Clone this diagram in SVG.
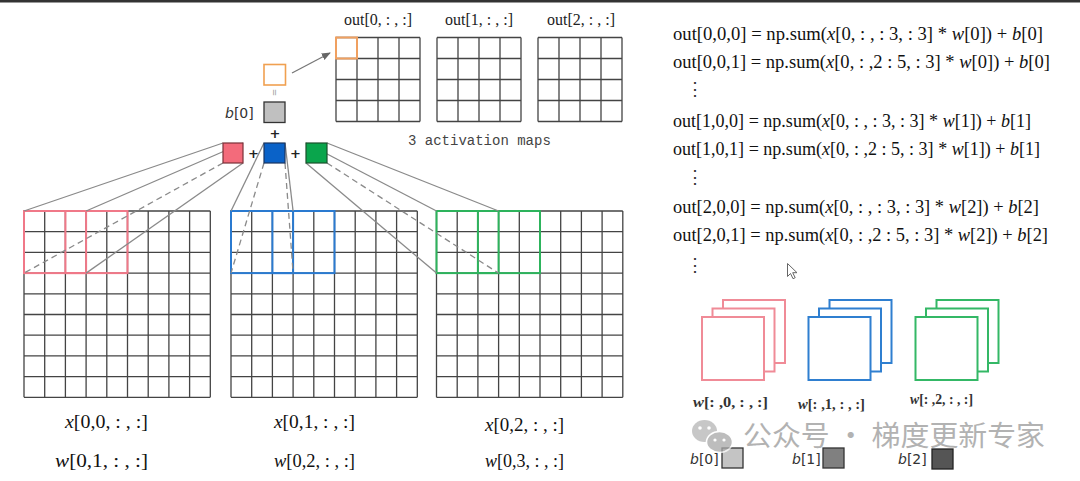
<svg xmlns="http://www.w3.org/2000/svg" xmlns:xlink="http://www.w3.org/1999/xlink" width="1080" height="481" viewBox="0 0 1080 481">
<style>
.grid{fill:none;stroke:#444;stroke-width:1.3}
.conn{stroke:#8a8a8a;stroke-width:1.3;fill:none}
.dash{stroke-dasharray:6 4}
.eq{font-family:"Liberation Serif","Times New Roman",serif;font-size:18px;fill:#111}
.lbl{font-family:"Liberation Serif","Times New Roman",serif;font-size:18px;fill:#111}
.olbl{font-family:"Liberation Serif","Times New Roman",serif;font-size:16px;fill:#222}
.wl{font-family:"Liberation Serif","Times New Roman",serif;font-size:15px;font-weight:bold;fill:#333}
.bl{font-family:"DejaVu Sans","Liberation Sans",sans-serif;font-size:14px;fill:#333}
.mono{font-family:"Liberation Mono","DejaVu Sans Mono",monospace;font-size:14px;fill:#444}
.plus{font-family:"DejaVu Sans",sans-serif;font-size:13px;font-weight:bold;fill:#222}
.dots{font-family:"DejaVu Serif",serif;font-size:18px;fill:#333}
.it{font-style:italic}
.pk{fill:none;stroke:#f07888;stroke-width:2}
.bu{fill:none;stroke:#2a7ad0;stroke-width:2}
.gr{fill:none;stroke:#2db35c;stroke-width:2}
.spk{fill:#fff;stroke:#f08b97;stroke-width:2}
.sbu{fill:#fff;stroke:#2f7fd0;stroke-width:2}
.sgr{fill:#fff;stroke:#34b866;stroke-width:2}
</style>
<defs>
<path id="grid9" class="grid" d="M0,0V186.3M20.7,0V186.3M41.4,0V186.3M62.1,0V186.3M82.8,0V186.3M103.5,0V186.3M124.2,0V186.3M144.9,0V186.3M165.6,0V186.3M186.3,0V186.3M0,0H186.3M0,20.7H186.3M0,41.4H186.3M0,62.1H186.3M0,82.8H186.3M0,103.5H186.3M0,124.2H186.3M0,144.9H186.3M0,165.6H186.3M0,186.3H186.3"/>
<path id="grid4" class="grid" d="M0,0V84M21,0V84M42,0V84M63,0V84M84,0V84M0,0H84M0,21H84M0,42H84M0,63H84M0,84H84"/>
<marker id="arr" viewBox="0 0 10 10" refX="9" refY="5" markerWidth="7" markerHeight="7" orient="auto">
<path d="M0,1L10,5L0,9z" fill="#666"/>
</marker>
</defs>
<rect width="1080" height="481" fill="#fff"/>
<rect width="1080" height="2.5" fill="#333"/>

<g id="output-maps">
<text class="olbl" x="378" y="25" text-anchor="middle">out[0, : , :]</text>
<text class="olbl" x="479" y="25" text-anchor="middle">out[1, : , :]</text>
<text class="olbl" x="581" y="25" text-anchor="middle">out[2, : , :]</text>
<use xlink:href="#grid4" x="336" y="37.5"/>
<use xlink:href="#grid4" x="437" y="37.5"/>
<use xlink:href="#grid4" x="538" y="37.5"/>
<rect x="336" y="37.5" width="21" height="21" fill="none" stroke="#f0a060" stroke-width="2"/>
<text class="mono" x="408" y="145">3 activation maps</text>
</g>

<g id="input-grids">
<use xlink:href="#grid9" x="24" y="211"/>
<use xlink:href="#grid9" x="231" y="211"/>
<use xlink:href="#grid9" x="436.5" y="211"/>
<rect class="pk" x="24" y="211" width="62.1" height="62.1"/>
<rect class="pk" x="65.4" y="211" width="62.1" height="62.1"/>
<rect class="bu" x="231" y="211" width="62.1" height="62.1"/>
<rect class="bu" x="272.4" y="211" width="62.1" height="62.1"/>
<rect class="gr" x="436.5" y="211" width="62.1" height="62.1"/>
<rect class="gr" x="477.9" y="211" width="62.1" height="62.1"/>
</g>

<g id="connectors">
<line class="conn" x1="223" y1="143" x2="24" y2="211"/>
<line class="conn" x1="243" y1="143" x2="86.1" y2="211"/>
<line class="conn" x1="243" y1="163" x2="86.1" y2="273.1"/>
<line class="conn dash" x1="223" y1="163" x2="24" y2="273.1"/>
<line class="conn" x1="264" y1="143" x2="231" y2="211"/>
<line class="conn" x1="285" y1="143" x2="293.1" y2="211"/>
<line class="conn dash" x1="285" y1="163" x2="293.1" y2="273.1"/>
<line class="conn dash" x1="264" y1="163" x2="231" y2="273.1"/>
<line class="conn" x1="306" y1="143" x2="436.5" y2="211"/>
<line class="conn" x1="327" y1="143" x2="498.6" y2="211"/>
<line class="conn dash" x1="327" y1="163" x2="498.6" y2="273.1"/>
<line class="conn" x1="306" y1="163" x2="436.5" y2="273.1"/>
<line x1="292" y1="73" x2="330" y2="53" stroke="#777" stroke-width="1.3" marker-end="url(#arr)"/>
</g>

<g id="filters">
<rect x="223" y="143" width="20" height="20" fill="#f36b7b" stroke="#7a3038" stroke-width="1.2"/>
<text class="plus" x="253.5" y="157.5" text-anchor="middle">+</text>
<rect x="264" y="143" width="21" height="20" fill="#0a62c8" stroke="#1a3560" stroke-width="1.2"/>
<text class="plus" x="295.5" y="157.5" text-anchor="middle">+</text>
<rect x="306" y="143" width="21" height="20" fill="#0aa54c" stroke="#19502c" stroke-width="1.2"/>
</g>

<g id="bias-sum">
<text class="plus" x="275" y="137.5" text-anchor="middle">+</text>
<rect x="264" y="102" width="21" height="20.5" fill="#c0c0c0" stroke="#333" stroke-width="1.3"/>
<text class="bl" x="225" y="118"><tspan class="it">b</tspan>[0]</text>
<text x="275" y="92.5" font-family="DejaVu Sans,sans-serif" font-size="9" fill="#999" text-anchor="middle" transform="rotate(90 275 92.5)" dy="3">=</text>
<rect x="264" y="64.5" width="21.5" height="20.5" fill="#fff" stroke="#f0a050" stroke-width="1.6"/>
</g>

<g id="input-labels">
<text class="lbl" x="65" y="428" textLength="83" lengthAdjust="spacingAndGlyphs"><tspan class="it">x</tspan>[0,0, : , :]</text>
<text class="lbl" x="55" y="467" textLength="93" lengthAdjust="spacingAndGlyphs"><tspan class="it">w</tspan>[0,1, : , :]</text>
<text class="lbl" x="274" y="428" textLength="81" lengthAdjust="spacingAndGlyphs"><tspan class="it">x</tspan>[0,1, : , :]</text>
<text class="lbl" x="274" y="467" textLength="81" lengthAdjust="spacingAndGlyphs"><tspan class="it">w</tspan>[0,2, : , :]</text>
<text class="lbl" x="485" y="431" textLength="79" lengthAdjust="spacingAndGlyphs"><tspan class="it">x</tspan>[0,2, : , :]</text>
<text class="lbl" x="485" y="467" textLength="79" lengthAdjust="spacingAndGlyphs"><tspan class="it">w</tspan>[0,3, : , :]</text>
</g>

<g id="equations">
<text class="eq" x="673" y="40" textLength="370" lengthAdjust="spacingAndGlyphs">out[0,0,0] = np.sum(<tspan class="it">x</tspan>[0, : , : 3, : 3] * <tspan class="it">w</tspan>[0]) + <tspan class="it">b</tspan>[0]</text>
<text class="eq" x="673" y="68" textLength="377" lengthAdjust="spacingAndGlyphs">out[0,0,1] = np.sum(<tspan class="it">x</tspan>[0, : ,2 : 5, : 3] * <tspan class="it">w</tspan>[0]) + <tspan class="it">b</tspan>[0]</text>
<text class="dots" x="695" y="95" text-anchor="middle">⋮</text>
<text class="eq" x="673" y="127" textLength="358" lengthAdjust="spacingAndGlyphs">out[1,0,0] = np.sum(<tspan class="it">x</tspan>[0, : , : 3, : 3] * <tspan class="it">w</tspan>[1]) + <tspan class="it">b</tspan>[1]</text>
<text class="eq" x="673" y="155" textLength="367" lengthAdjust="spacingAndGlyphs">out[1,0,1] = np.sum(<tspan class="it">x</tspan>[0, : ,2 : 5, : 3] * <tspan class="it">w</tspan>[1]) + <tspan class="it">b</tspan>[1]</text>
<text class="dots" x="695" y="183" text-anchor="middle">⋮</text>
<text class="eq" x="673" y="213" textLength="366" lengthAdjust="spacingAndGlyphs">out[2,0,0] = np.sum(<tspan class="it">x</tspan>[0, : , : 3, : 3] * <tspan class="it">w</tspan>[2]) + <tspan class="it">b</tspan>[2]</text>
<text class="eq" x="673" y="241" textLength="375" lengthAdjust="spacingAndGlyphs">out[2,0,1] = np.sum(<tspan class="it">x</tspan>[0, : ,2 : 5, : 3] * <tspan class="it">w</tspan>[2]) + <tspan class="it">b</tspan>[2]</text>
<text class="dots" x="695" y="271" text-anchor="middle">⋮</text>
</g>

<path d="M787.5,263.5v13l3,-3l2.5,5.2l2.2,-1l-2.5,-5h4.3z" fill="#fff" stroke="#666" stroke-width="1"/>

<g id="filter-stacks">
<rect class="spk" x="723" y="300" width="62" height="63"/>
<rect class="spk" x="712.5" y="308.5" width="62" height="63"/>
<rect class="spk" x="702" y="317" width="62" height="63"/>
<rect class="sbu" x="829.5" y="300" width="62" height="63"/>
<rect class="sbu" x="819" y="308.5" width="62" height="63"/>
<rect class="sbu" x="808.5" y="317" width="62" height="63"/>
<rect class="sgr" x="936.5" y="300" width="62" height="63"/>
<rect class="sgr" x="926" y="308.5" width="62" height="63"/>
<rect class="sgr" x="915.5" y="317" width="62" height="63"/>
<text class="wl" x="693" y="407" textLength="75" lengthAdjust="spacingAndGlyphs"><tspan class="it">w</tspan>[: ,0, : , :]</text>
<text class="wl" x="798" y="409" textLength="67" lengthAdjust="spacingAndGlyphs"><tspan class="it">w</tspan>[: ,1, : , :]</text>
<text class="wl" x="910" y="404" textLength="63" lengthAdjust="spacingAndGlyphs"><tspan class="it">w</tspan>[: ,2, : , :]</text>
</g>

<g id="bias-legend">
<text class="bl" x="690" y="464"><tspan class="it">b</tspan>[0]</text>
<rect x="722" y="448" width="21" height="20" fill="#c4c4c4" stroke="#333" stroke-width="1.3"/>
<text class="bl" x="792" y="464"><tspan class="it">b</tspan>[1]</text>
<rect x="823" y="448" width="21" height="20" fill="#808080" stroke="#333" stroke-width="1.3"/>
<text class="bl" x="898" y="464"><tspan class="it">b</tspan>[2]</text>
<rect x="932" y="449" width="21" height="20" fill="#555" stroke="#222" stroke-width="1.3"/>
</g>

<g id="watermark" opacity="0.75">
<ellipse cx="704.5" cy="431" rx="12.5" ry="11" fill="#b5b5b5"/>
<ellipse cx="719.5" cy="442" rx="13" ry="10.5" fill="#a8a8a8" stroke="#fff" stroke-width="1.5"/>
<circle cx="700" cy="428" r="1.8" fill="#fff"/>
<circle cx="709" cy="428" r="1.8" fill="#fff"/>
<circle cx="715" cy="440" r="1.6" fill="#fff"/>
<circle cx="724" cy="440" r="1.6" fill="#fff"/>
<text x="743" y="446" font-family="'Noto Sans CJK SC','Noto Sans',sans-serif" font-size="28" fill="#999" textLength="302" lengthAdjust="spacingAndGlyphs">公众号 · 梯度更新专家</text>
</g>
</svg>
